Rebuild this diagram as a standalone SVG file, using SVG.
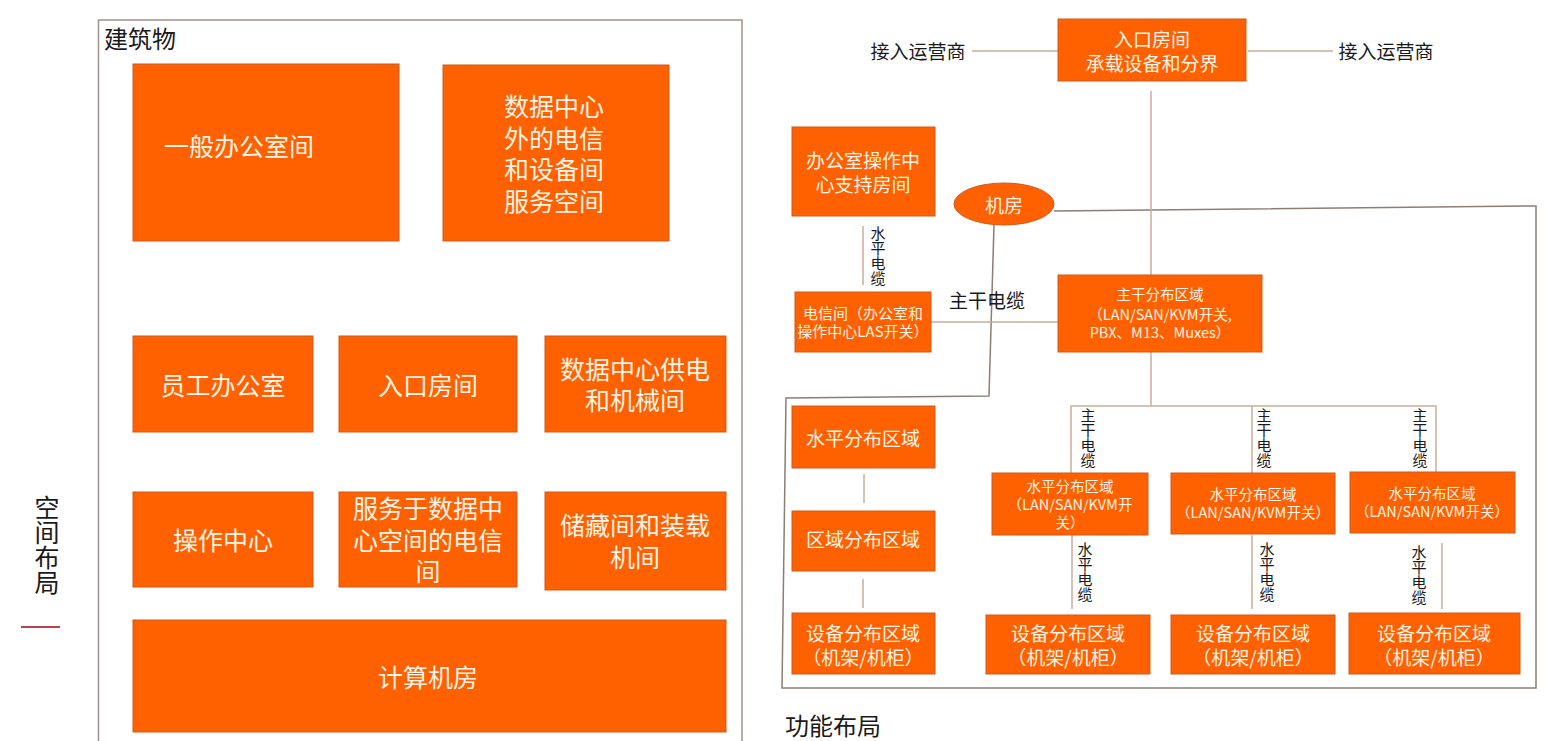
<svg xmlns="http://www.w3.org/2000/svg" width="1547" height="741" viewBox="0 0 1547 741">
<style>
.box{fill:#FF6100;stroke:#D05A1E;stroke-width:1}
.t{font-family:"Noto Sans CJK SC","Noto Sans",sans-serif;fill:#FFF4E6;text-anchor:middle;dominant-baseline:central}
.l{font-family:"Noto Sans CJK SC","Noto Sans",sans-serif;fill:#1a1a1a;text-anchor:middle;dominant-baseline:central}
.v{writing-mode:vertical-rl;text-orientation:upright}
.c{fill:none;stroke:#C9AE9C;stroke-width:1.5}
.loop{fill:none;stroke:#8E7D72;stroke-width:1.5}
.s25{font-size:25px}.s19{font-size:19px}.s15{font-size:15px}.s14{font-size:14.5px}
</style>
<rect width="1547" height="741" fill="#ffffff"/>

<!-- Left: spatial layout -->
<g id="building-frame">
<rect x="98.5" y="20" width="643.5" height="740" fill="none" stroke="#A3918A" stroke-width="1.5"/>
<text class="l" x="140" y="37" font-size="24">建筑物</text>
</g>
<g id="spatial-label">
<text class="l v s25" x="47" y="545">空间布局</text>
<line x1="21" y1="627" x2="60" y2="627" stroke="#B8444A" stroke-width="2"/>
</g>
<g id="n-general-office">
<rect class="box" x="133" y="64" width="266" height="177"/>
<text class="t s25" x="239" y="145">一般办公室间</text>
</g>
<g id="n-telecom-outside">
<rect class="box" x="443" y="65" width="226" height="176"/>
<text class="t s25" x="554" y="105">数据中心<tspan x="554" dy="31.5">外的电信</tspan><tspan x="554" dy="31.5">和设备间</tspan><tspan x="554" dy="31.5">服务空间</tspan></text>
</g>
<g id="n-staff-office">
<rect class="box" x="133" y="336" width="180" height="96"/>
<text class="t s25" x="223" y="384">员工办公室</text>
</g>
<g id="n-entrance-room">
<rect class="box" x="339" y="336" width="178" height="96"/>
<text class="t s25" x="428" y="384">入口房间</text>
</g>
<g id="n-power-mech">
<rect class="box" x="545" y="336" width="181" height="96"/>
<text class="t s25" x="635" y="368">数据中心供电<tspan x="635" dy="31">和机械间</tspan></text>
</g>
<g id="n-ops-center">
<rect class="box" x="133" y="492" width="180" height="95"/>
<text class="t s25" x="223" y="539">操作中心</text>
</g>
<g id="n-telecom-room">
<rect class="box" x="339" y="492" width="178" height="95"/>
<text class="t s25" x="428" y="507">服务于数据中<tspan x="428" dy="32">心空间的电信</tspan><tspan x="428" dy="31">间</tspan></text>
</g>
<g id="n-storage">
<rect class="box" x="545" y="492" width="181" height="98"/>
<text class="t s25" x="635" y="524">储藏间和装载<tspan x="635" dy="32">机间</tspan></text>
</g>
<g id="n-computer-room">
<rect class="box" x="133" y="620" width="593" height="112"/>
<text class="t s25" x="428" y="676">计算机房</text>
</g>

<!-- Right: functional layout -->
<g id="connectors">
<polyline class="loop" points="1054,211 1536,206 1536,688 782,688 786,398 989,396 994,225"/>
<line class="c" x1="972" y1="51" x2="1058" y2="51"/>
<line class="c" x1="1248" y1="51" x2="1333" y2="51"/>
<line class="c" x1="1151" y1="91" x2="1151" y2="275"/>
<line class="c" x1="863" y1="226" x2="863" y2="285"/>
<line class="c" x1="931" y1="322" x2="1058" y2="322"/>
<polyline class="c" points="1151,352 1151,406"/>
<polyline class="c" points="1071,473 1071,406 1436,406 1436,473"/>
<line class="c" x1="1252" y1="406" x2="1252" y2="473"/>
<line class="c" x1="1072" y1="535" x2="1072" y2="609"/>
<line class="c" x1="1252" y1="535" x2="1252" y2="609"/>
<line class="c" x1="1442" y1="543" x2="1442" y2="609"/>
<line class="c" x1="864" y1="474" x2="864" y2="503"/>
<line class="c" x1="863" y1="579" x2="863" y2="608"/>
</g>

<g id="connector-labels">
<text class="l s19" x="918" y="50">接入运营商</text>
<text class="l s19" x="1386" y="50">接入运营商</text>
<text class="l v s15" x="878" y="256">水平电缆</text>
<text class="l s19" x="987" y="299">主干电缆</text>
<text class="l v s15" x="1088" y="438">主干电缆</text>
<text class="l v s15" x="1264" y="438">主干电缆</text>
<text class="l v s15" x="1420" y="438">主干电缆</text>
<text class="l v s15" x="1085" y="572">水平电缆</text>
<text class="l v s15" x="1267" y="572">水平电缆</text>
<text class="l v s15" x="1419" y="575">水平电缆</text>
</g>

<g id="n-entrance">
<rect class="box" x="1058" y="19" width="188" height="62"/>
<text class="t s19" x="1152" y="38">入口房间<tspan x="1152" dy="24">承载设备和分界</tspan></text>
</g>
<g id="n-office-support">
<rect class="box" x="792" y="127" width="143" height="89"/>
<text class="t s19" x="863" y="159">办公室操作中<tspan x="863" dy="24">心支持房间</tspan></text>
</g>
<g id="n-machine-room">
<ellipse class="box" cx="1004" cy="204" rx="50" ry="21"/>
<text class="t s19" x="1004" y="204">机房</text>
</g>
<g id="n-telecom-las">
<rect class="box" x="795" y="292" width="136" height="60"/>
<text class="t s15" x="863" y="312">电信间（办公室和<tspan x="863" dy="18">操作中心LAS开关）</tspan></text>
</g>
<g id="n-main-dist">
<rect class="box" x="1058" y="275" width="204" height="77"/>
<text class="t s14" x="1160" y="293">主干分布区域<tspan x="1160" dy="20">（LAN/SAN/KVM开关,</tspan><tspan x="1160" dy="18">PBX、M13、Muxes）</tspan></text>
</g>
<g id="n-hda-left">
<rect class="box" x="792" y="406" width="143" height="62"/>
<text class="t s19" x="863" y="437">水平分布区域</text>
</g>
<g id="n-zda-left">
<rect class="box" x="792" y="511" width="143" height="60"/>
<text class="t s19" x="863" y="538">区域分布区域</text>
</g>
<g id="n-eda-left">
<rect class="box" x="792" y="613" width="143" height="61"/>
<text class="t s19" x="863" y="632">设备分布区域<tspan x="863" dy="24">（机架/机柜）</tspan></text>
</g>
<g id="n-hda-1">
<rect class="box" x="992" y="473" width="156" height="62"/>
<text class="t s14" x="1070" y="485">水平分布区域<tspan x="1070" dy="18">（LAN/SAN/KVM开</tspan><tspan x="1070" dy="18">关）</tspan></text>
</g>
<g id="n-hda-2">
<rect class="box" x="1171" y="473" width="164" height="61"/>
<text class="t s14" x="1253" y="493">水平分布区域<tspan x="1253" dy="18">（LAN/SAN/KVM开关）</tspan></text>
</g>
<g id="n-hda-3">
<rect class="box" x="1350" y="472" width="165" height="61"/>
<text class="t s14" x="1432" y="492">水平分布区域<tspan x="1432" dy="18">（LAN/SAN/KVM开关）</tspan></text>
</g>
<g id="n-eda-1">
<rect class="box" x="986" y="615" width="164" height="59"/>
<text class="t s19" x="1068" y="632">设备分布区域<tspan x="1068" dy="24">（机架/机柜）</tspan></text>
</g>
<g id="n-eda-2">
<rect class="box" x="1171" y="615" width="164" height="59"/>
<text class="t s19" x="1253" y="632">设备分布区域<tspan x="1253" dy="24">（机架/机柜）</tspan></text>
</g>
<g id="n-eda-3">
<rect class="box" x="1349" y="613" width="171" height="61"/>
<text class="t s19" x="1434" y="632">设备分布区域<tspan x="1434" dy="24">（机架/机柜）</tspan></text>
</g>
<g id="functional-label">
<text class="l" x="833" y="724" font-size="24">功能布局</text>
</g>
</svg>
